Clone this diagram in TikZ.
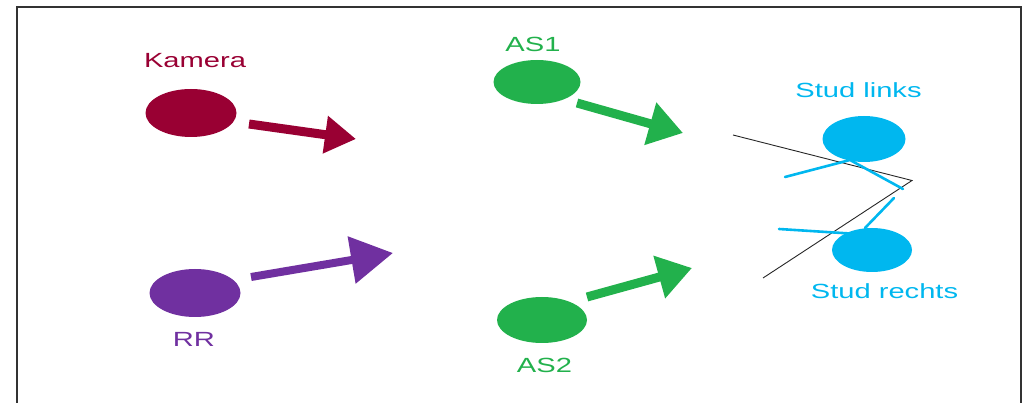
\documentclass[tikz,border=0pt]{standalone}
\usepackage{fontspec}
\setmainfont{Liberation Sans}
\usetikzlibrary{arrows.meta,shapes.geometric}

\definecolor{kamcol}{HTML}{990033}
\definecolor{rrcol}{HTML}{7030A0}
\definecolor{ascol}{HTML}{22B14C}
\definecolor{studcol}{HTML}{00B7EF}

\tikzset{
  blob/.style={ellipse, fill=#1, inner sep=0pt},
  lbl/.style={text=#1, font=\fontsize{20.5}{24}\selectfont, xscale=1.42, inner sep=0pt, anchor=center},
  fatarrow/.style={draw=#1, line width=9pt, -{Triangle[length=34pt,width=42pt]}},
  stick/.style={draw=studcol, line width=2.6pt, line cap=round},
  guide/.style={draw=black!85, line width=0.9pt}
}

\begin{document}
\begin{tikzpicture}[x=1pt, y=-1pt]
\useasboundingbox (0,0) rectangle (1026,403);

% outer frame (open at the bottom)
\draw[black!80, line width=2pt] (16.5,405) -- (16.5,7.5) -- (1021,7.5) -- (1021,405);

% sources and targets
\node[blob=kamcol, minimum width=91pt, minimum height=48pt] (kam) at (191,113) {};
\node[blob=rrcol, minimum width=91pt, minimum height=48pt] (rr) at (195,293) {};
\node[blob=ascol, minimum width=87pt, minimum height=44pt] (as1) at (537,82) {};
\node[blob=ascol, minimum width=90pt, minimum height=46pt] (as2) at (542,320) {};
\node[blob=studcol, minimum width=83pt, minimum height=46pt] (sl) at (864,139) {};
\node[blob=studcol, minimum width=80pt, minimum height=44pt] (sr) at (872,250) {};

% labels
\node[lbl=kamcol] (tkam) at (195,61) {Kamera};
\node[lbl=rrcol] (trr) at (194,339.5) {RR};
\node[lbl=ascol] (tas1) at (533,44) {AS1};
\node[lbl=ascol] (tas2) at (544.5,365) {AS2};
\node[lbl=studcol] (tsl) at (858.5,90) {Stud links};
\node[lbl=studcol] (tsr) at (884.5,291.5) {Stud rechts};

% arrow end points
\coordinate (kamA) at (249,124);  \coordinate (kamB) at (356,139);
\coordinate (rrA)  at (251,277);  \coordinate (rrB)  at (393,253);
\coordinate (as1A) at (577,103);  \coordinate (as1B) at (683,133);
\coordinate (as2A) at (587,297);  \coordinate (as2B) at (692,268);

\draw[draw=kamcol, line width=9pt, -{Triangle[length=31pt,width=36pt]}] (kamA) -- (kamB);
\draw[draw=rrcol, line width=8pt, -{Triangle[length=42pt,width=46pt]}] (rrA) -- (rrB);
\draw[fatarrow=ascol] (as1A) -- (as1B);
\draw[fatarrow=ascol] (as2A) -- (as2B);

% thin black wedge
\coordinate (wTop) at (733,135);
\coordinate (wTip) at (912,180.5);
\coordinate (wBot) at (763,278);
\draw[guide] (wTop) -- (wTip) -- (wBot);

% cyan strokes
\coordinate (c1) at (785,177);
\coordinate (c2) at (850,160);
\coordinate (c3) at (903,189);
\coordinate (c4) at (779,229);
\coordinate (c5) at (850,233.5);
\coordinate (c6) at (865,228);
\coordinate (c7) at (894,198);
\draw[stick] (c1) -- (c2) -- (c3);
\draw[stick] (c4) -- (c5);
\draw[stick] (c6) -- (c7);
\end{tikzpicture}
\end{document}
